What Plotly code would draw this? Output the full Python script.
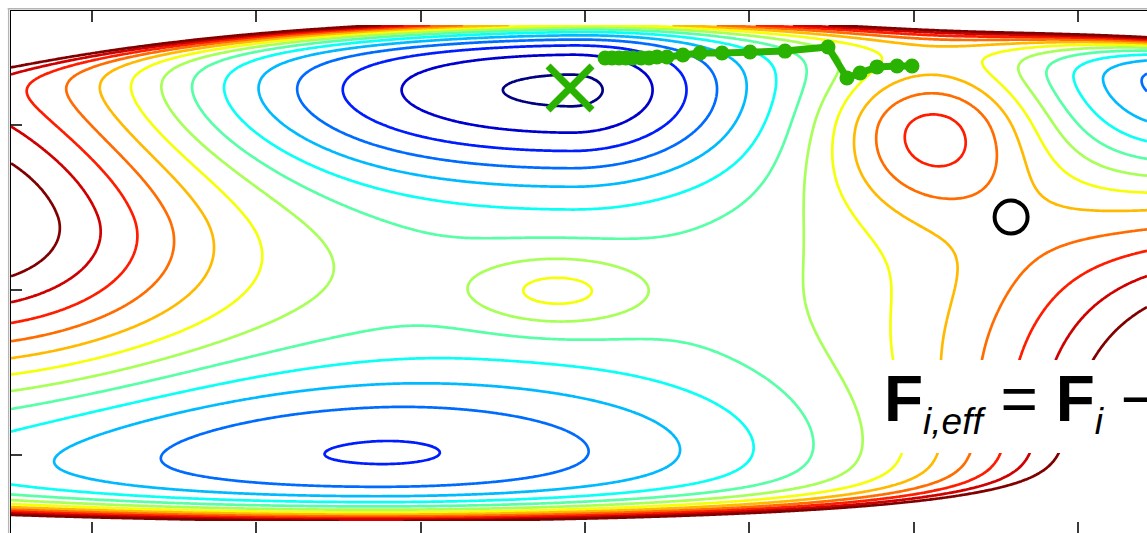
import numpy as np
import plotly.graph_objects as go

# ---- energy surface: plateau + split-Gaussian wells/hills + channel walls ----
comp_x = [2.91, 1.69, 6.75, 2.83, 5.11, -0.80, 7.04]
comp_y = [2.22, 0.00, 2.28, 0.99, 1.97, 1.45, -0.30]
comp_amp = [-6.65, -4.6, -6.6, 2.1, 4.5, 8.0, 10.7]
comp_sx_left = [1.90, 2.30, 0.72, 0.38, 0.46, 1.10, 1.235]
comp_sx_right = [0.80, 1.80, 0.72, 0.38, 0.46, 1.10, 1.235]
comp_sy_down = [0.42, 0.37, 0.55, 0.155, 0.36, 0.70, 1.50]
comp_sy_up = [0.42, 0.40, 0.30, 0.155, 0.30, 1.05, 1.50]
plateau = 7.4

# upper wall: amp * exp((y - (y0 - k*(x - xc)^2)) / s)
top_wall = dict(amp=3.0, y0=2.56, k=0.0125, xc=3.5, s=0.07)
# lower wall: amp * exp(((y0 + k*(x - xc)^2) - y) / s)
bot_wall = dict(amp=2.1, y0=-0.29, k=0.006, xc=1.69, s=0.075)

grid_x = np.linspace(-0.493, 6.42, 460)
grid_y = np.linspace(-0.40, 2.606, 300)

# contour levels and their jet colours
levels = list(range(1, 15))
level_colors = [
    "rgb(0,0,128)", "rgb(0,0,206)", "rgb(0,29,255)", "rgb(0,108,255)",
    "rgb(0,186,255)", "rgb(10,255,245)", "rgb(88,255,167)", "rgb(167,255,88)",
    "rgb(245,255,10)", "rgb(255,186,0)", "rgb(255,108,0)", "rgb(255,29,0)",
    "rgb(206,0,0)", "rgb(128,0,0)",
]

# optimisation path (images) and end points
path_x = [3.122, 3.164, 3.207, 3.249, 3.292, 3.341, 3.389, 3.438, 3.499, 3.596,
          3.700, 3.834, 4.004, 4.217, 4.479, 4.594, 4.674, 4.777, 4.899, 4.990]
path_y = [2.406, 2.406, 2.406, 2.406, 2.406, 2.406, 2.406, 2.412, 2.412, 2.424,
          2.436, 2.436, 2.442, 2.448, 2.473, 2.285, 2.315, 2.352, 2.358, 2.358]
minimum_xy = (2.909, 2.224)
saddle_xy = (5.593, 1.442)

x_ticks = [0, 1, 2, 3, 4, 5, 6]
y_ticks = [0, 1, 2]
x_range = [-0.4929, 6.420]
y_range = [-0.4727, 2.6909]

GREEN = "rgb(42,178,0)"

# ---- evaluate surface ----
X, Y = np.meshgrid(grid_x, grid_y)
Z = np.full_like(X, plateau)
for cx, cy, a, sxl, sxr, syd, syu in zip(comp_x, comp_y, comp_amp, comp_sx_left,
                                         comp_sx_right, comp_sy_down, comp_sy_up):
    dx = X - cx
    dy = Y - cy
    sx = np.where(dx < 0, sxl, sxr)
    sy = np.where(dy < 0, syd, syu)
    Z += a * np.exp(-(dx ** 2) / (2 * sx ** 2) - (dy ** 2) / (2 * sy ** 2))
yt = top_wall["y0"] - top_wall["k"] * (X - top_wall["xc"]) ** 2
Z += top_wall["amp"] * np.exp((Y - yt) / top_wall["s"])
yb = bot_wall["y0"] + bot_wall["k"] * (X - bot_wall["xc"]) ** 2
Z += bot_wall["amp"] * np.exp((yb - Y) / bot_wall["s"])

n = len(level_colors)
jet_scale = [[i / (n - 1), c] for i, c in enumerate(level_colors)]

fig = go.Figure()
fig.add_trace(go.Contour(
    x=grid_x, y=grid_y, z=Z,
    contours=dict(coloring="lines", start=levels[0], end=levels[-1], size=1),
    colorscale=jet_scale, zmin=levels[0], zmax=levels[-1], zauto=False,
    line=dict(width=2.7, smoothing=0.8),
    showscale=False, hoverinfo="skip",
))
fig.add_trace(go.Scatter(
    x=path_x, y=path_y, mode="lines+markers",
    line=dict(color=GREEN, width=7),
    marker=dict(color=GREEN, size=15),
    hoverinfo="skip", showlegend=False,
))
fig.add_trace(go.Scatter(
    x=[minimum_xy[0]], y=[minimum_xy[1]], mode="markers",
    marker=dict(symbol="x-thin", size=44, color=GREEN, line=dict(width=7, color=GREEN)),
    hoverinfo="skip", showlegend=False,
))
fig.add_trace(go.Scatter(
    x=[saddle_xy[0]], y=[saddle_xy[1]], mode="markers",
    marker=dict(symbol="circle-open", size=33, color="black", line=dict(width=4, color="black")),
    hoverinfo="skip", showlegend=False,
))
# invisible trace so the top axis is drawn
fig.add_trace(go.Scatter(x=[x_range[0]], y=[y_range[0]], xaxis="x2", mode="markers",
                         marker=dict(opacity=0), hoverinfo="skip", showlegend=False))

tick_style = dict(ticks="inside", ticklen=11, tickwidth=1.5, tickcolor="#3a3a3a",
                  showticklabels=False, showgrid=False, zeroline=False)

sub = '<sub><span style="font-size:37px"><i>{}</i></span></sub>'
formula = "<b>F</b>" + sub.format("i,eff") + " = <b>F</b>" + sub.format("i") + " \u2212"

fig.update_layout(
    width=1147, height=533,
    margin=dict(l=11, r=0, t=11, b=0),
    paper_bgcolor="white", plot_bgcolor="white",
    showlegend=False,
    xaxis=dict(range=x_range, tickvals=x_ticks, showline=False, **tick_style),
    xaxis2=dict(range=x_range, tickvals=x_ticks, overlaying="x", side="top", matches="x",
                showline=True, linecolor="black", linewidth=1.3, **tick_style),
    yaxis=dict(range=y_range, tickvals=y_ticks, showline=True, linecolor="black",
               linewidth=1.3, **tick_style),
    shapes=[
        dict(type="line", xref="paper", yref="paper", x0=-0.003, x1=1.0,
             y0=1.0043, y1=1.0043, line=dict(color="#b4b4b4", width=1.3)),
        dict(type="line", xref="paper", yref="paper", x0=-0.0021, x1=-0.0021,
             y0=-0.01, y1=1.0043, line=dict(color="#b4b4b4", width=1.3)),
        dict(type="rect", xref="paper", yref="paper", x0=0.7694, x1=1.01,
             y0=0.1533, y1=0.3314, line=dict(width=0), fillcolor="white", layer="above"),
    ],
    annotations=[dict(
        xref="paper", yref="paper", x=0.767, y=0.25, xanchor="left", yanchor="middle",
        showarrow=False, text=formula,
        font=dict(family="Liberation Sans, Arial, sans-serif", size=64, color="black"),
    )],
)
fig.write_html("out.html")
